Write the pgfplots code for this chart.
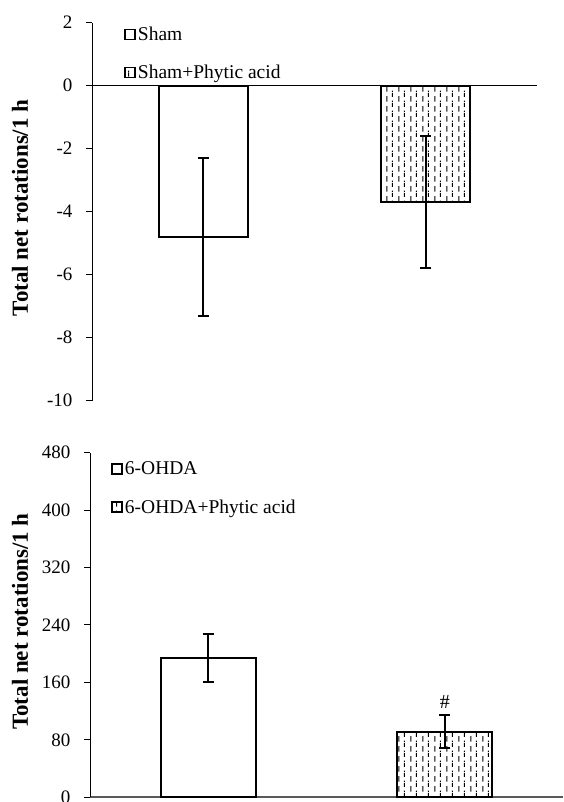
\documentclass[border=0pt]{standalone}
\usepackage{fontspec}
\setmainfont{Liberation Serif}
\usepackage{pgfplots}
\pgfplotsset{compat=1.18}
\usetikzlibrary{patterns}

\pgfdeclarepatternformonly{vdash}{\pgfqpoint{0pt}{0pt}}{\pgfqpoint{12pt}{10pt}}{\pgfqpoint{12pt}{10pt}}{%
  \pgfsetlinewidth{1.1pt}%
  \pgfpathmoveto{\pgfqpoint{3pt}{0.5pt}}\pgfpathlineto{\pgfqpoint{3pt}{6.5pt}}%
  \pgfpathmoveto{\pgfqpoint{9pt}{5.5pt}}\pgfpathlineto{\pgfqpoint{9pt}{10pt}}%
  \pgfpathmoveto{\pgfqpoint{9pt}{0pt}}\pgfpathlineto{\pgfqpoint{9pt}{1.5pt}}%
  \pgfusepath{stroke}}

\pgfplotsset{
  common/.style={
    scale only axis, xmin=0, xmax=2, xtick=\empty,
    axis y line*=left, tick align=outside, major tick length=6pt,
    y axis line style={line width=1pt},
    ytick style={line width=1pt, black},
    ticklabel style={font=\fontsize{19}{21}\selectfont},
    /pgf/number format/assume math mode=true,
    yticklabel shift=10pt,
    ylabel style={font=\fontsize{23}{26}\selectfont\bfseries, anchor=center},
    legend cell align=left,
    legend style={draw=none, fill=none, font=\fontsize{19.5}{22}\selectfont, row sep=19pt,
      /tikz/every even column/.append style={column sep=2pt}},
    legend image code/.code={\draw[#1, line width=1.8pt] (0pt,-5pt) rectangle (10pt,5pt);},
  },
  barA/.style={ybar, bar width=0.4, bar shift=0pt, draw=black, line width=2pt, fill=white,
    error bars/.cd, y dir=both, y explicit,
    error bar style={line width=1.8pt, black},
    error mark options={rotate=90, mark size=5.5pt, line width=1.8pt, black}},
  barB/.style={ybar, bar width=0.4, bar shift=0pt, draw=black, line width=2pt, pattern=vdash, pattern color=black,
    error bars/.cd, y dir=both, y explicit,
    error bar style={line width=1.8pt, black},
    error mark options={rotate=90, mark size=5.5pt, line width=1.8pt, black}},
}

\begin{document}
\begin{tikzpicture}
\useasboundingbox (0pt,0pt) rectangle (563pt,802pt);

% top panel
\begin{axis}[common, at={(92pt,401.3pt)}, anchor=south west, width=445pt, height=378pt,
  ymin=-10, ymax=2, ytick={-10,-8,-6,-4,-2,0,2},
  axis x line=none,
  ylabel={Total net rotations/1 h},
  ylabel style={at={(axis description cs:-0.162,0.51)}},
  legend style={at={(axis description cs:0.065,1.0)}, anchor=north west}]
\addplot[barA] coordinates {(0.5,-4.8) +- (0,2.5)};
\addlegendentry{Sham}
\addplot[barB] coordinates {(1.5,-3.7) +- (0,2.1)};
\addlegendentry{Sham+Phytic acid}
\draw[line width=1pt] (axis cs:0,0) -- (axis cs:2,0);
\end{axis}

% bottom panel
\begin{axis}[common, at={(90pt,4.7pt)}, anchor=south west, width=473pt, height=344.6pt,
  ymin=0, ymax=480, ytick={0,80,...,480},
  axis x line*=bottom, x axis line style={line width=2pt, black!65},
  ylabel={Total net rotations/1 h},
  ylabel style={at={(axis description cs:-0.148,0.51)}},
  legend style={at={(axis description cs:0.038,0.985)}, anchor=north west}]
\addplot[barA] coordinates {(0.5,194) +- (0,33)};
\addlegendentry{6-OHDA}
\addplot[barB] coordinates {(1.5,91.5) +- (0,23)};
\addlegendentry{6-OHDA+Phytic acid}
\node[font=\fontsize{20}{22}\selectfont] at (axis cs:1.5,133) {\#};
\end{axis}
\end{tikzpicture}
\end{document}
